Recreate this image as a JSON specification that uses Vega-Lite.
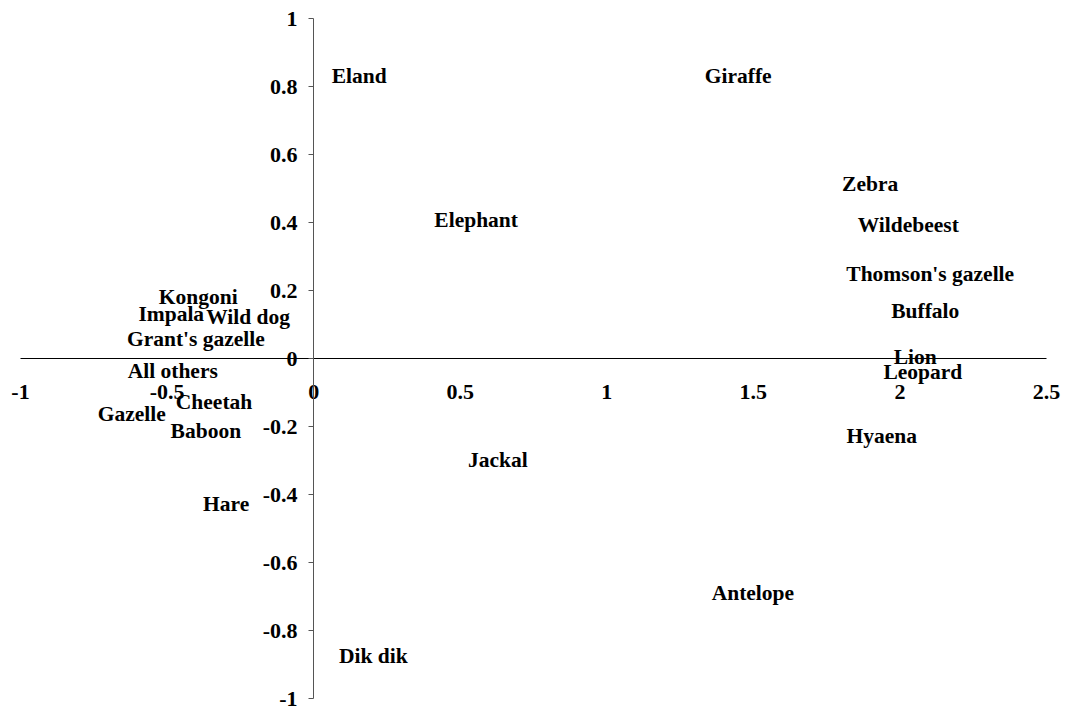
{
  "$schema": "https://vega.github.io/schema/vega-lite/v6.json",
  "width": 1026,
  "height": 680,
  "autosize": {"type": "none"},
  "padding": {"left": 20, "top": 18, "right": 20, "bottom": 10},
  "background": "white",
  "config": {"view": {"stroke": null}},
  "data": {
    "values": [
      {"name": "Eland", "x": 0.157, "y": 0.826},
      {"name": "Giraffe", "x": 1.45, "y": 0.826},
      {"name": "Zebra", "x": 1.9, "y": 0.509},
      {"name": "Wildebeest", "x": 2.03, "y": 0.388},
      {"name": "Thomson's gazelle", "x": 2.105, "y": 0.245},
      {"name": "Buffalo", "x": 2.088, "y": 0.135},
      {"name": "Lion", "x": 2.054, "y": 0.0},
      {"name": "Leopard", "x": 2.08, "y": -0.044},
      {"name": "Hyaena", "x": 1.94, "y": -0.232},
      {"name": "Antelope", "x": 1.5, "y": -0.694},
      {"name": "Jackal", "x": 0.63, "y": -0.303},
      {"name": "Elephant", "x": 0.556, "y": 0.403},
      {"name": "Dik dik", "x": 0.205, "y": -0.88},
      {"name": "Hare", "x": -0.297, "y": -0.432},
      {"name": "Baboon", "x": -0.366, "y": -0.217},
      {"name": "Cheetah", "x": -0.338, "y": -0.132},
      {"name": "Gazelle", "x": -0.619, "y": -0.168},
      {"name": "All others", "x": -0.479, "y": -0.041},
      {"name": "Grant's gazelle", "x": -0.4, "y": 0.053},
      {"name": "Impala", "x": -0.484, "y": 0.126},
      {"name": "Wild dog", "x": -0.222, "y": 0.118},
      {"name": "Kongoni", "x": -0.392, "y": 0.176}
    ]
  },
  "mark": {"type": "text", "font": "Liberation Serif", "fontWeight": "bold", "fontSize": 21.5, "color": "black", "align": "center", "baseline": "middle"},
  "encoding": {
    "x": {
      "field": "x", "type": "quantitative",
      "scale": {"domain": [-1, 2.5], "nice": false, "zero": false},
      "axis": {
        "title": null, "offset": -340, "values": [-1, -0.5, 0, 0.5, 1, 1.5, 2, 2.5],
        "labelExpr": "toString(datum.value)",
        "grid": false, "ticks": false, "domainColor": "black", "domainWidth": 1,
        "labelFont": "Liberation Serif", "labelFontWeight": "bold", "labelFontSize": 22,
        "labelColor": "black", "labelPadding": 23, "labelFlush": false, "labelOverlap": false,
        "zindex": 0
      }
    },
    "y": {
      "field": "y", "type": "quantitative",
      "scale": {"domain": [-1, 1], "nice": false, "zero": false},
      "axis": {
        "title": null, "offset": -293, "values": [-1, -0.8, -0.6, -0.4, -0.2, 0, 0.2, 0.4, 0.6, 0.8, 1],
        "labelExpr": "toString(datum.value)",
        "grid": false, "ticks": true, "tickSize": 5, "tickColor": "#555555", "domainColor": "#555555", "domainWidth": 1,
        "labelFont": "Liberation Serif", "labelFontWeight": "bold", "labelFontSize": 22,
        "labelColor": "black", "labelPadding": 11, "labelFlush": false, "labelOverlap": false,
        "zindex": 0
      }
    },
    "text": {"field": "name", "type": "nominal"}
  }
}
